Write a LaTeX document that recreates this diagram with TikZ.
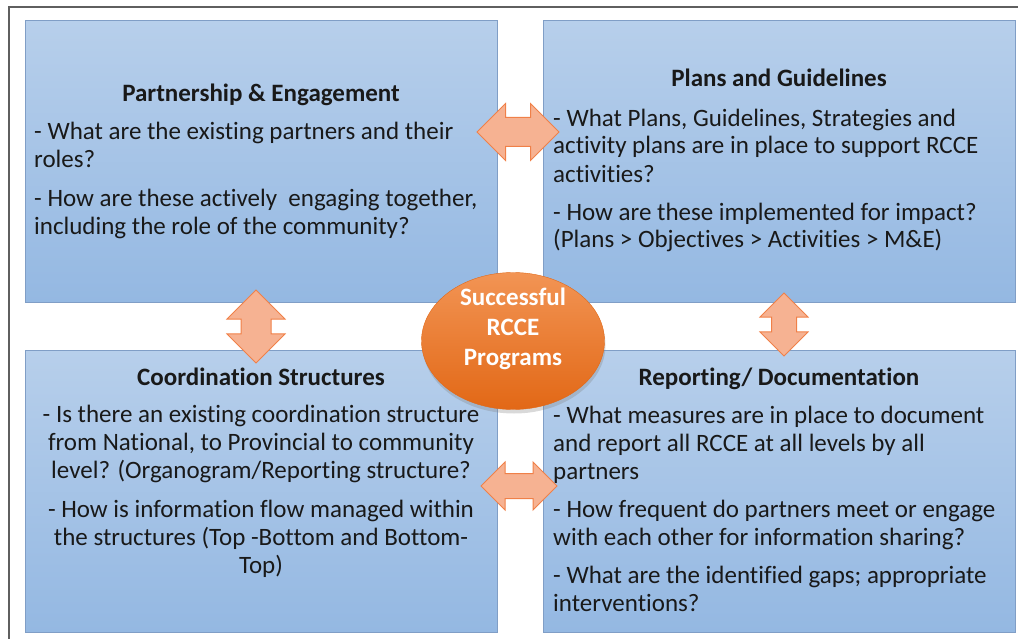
\documentclass[tikz,border=0pt]{standalone}
\usepackage{fontspec}
\setmainfont{Carlito}[Ligatures=CommonOff]
\usetikzlibrary{shapes,arrows,positioning,shadows,calc}

\definecolor{panelTop}{RGB}{183,207,235}
\definecolor{panelBot}{RGB}{148,184,226}
\definecolor{panelLine}{RGB}{128,158,198}
\definecolor{hubTop}{RGB}{242,148,84}
\definecolor{hubBot}{RGB}{226,104,22}
\definecolor{linkFill}{RGB}{246,178,146}
\definecolor{linkLine}{RGB}{240,128,72}
\definecolor{frameGray}{RGB}{95,95,95}

\begin{document}
\begin{tikzpicture}[x=1pt,y=-1pt,
  panelstyle/.style={rectangle,draw=panelLine,top color=panelTop,bottom color=panelBot,minimum width=472,minimum height=282,anchor=north west,inner sep=0},
  headstyle/.style={font=\fontsize{25}{28}\selectfont\bfseries,text=black!90,anchor=base,inner sep=0},
  bodystyle/.style={font=\fontsize{25}{28}\selectfont,text=black!90,align=left,anchor=base west,inner sep=0},
  hubstyle/.style={ellipse,draw=hubBot,top color=hubTop,bottom color=hubBot,minimum width=183,minimum height=137,drop shadow={shadow xshift=1pt,shadow yshift=-4pt,opacity=0.3}},
  linkstyle/.style={double arrow,draw=linkLine,fill=linkFill,line width=1pt,double arrow tip angle=90}]
\useasboundingbox (0,0) rectangle (1018,639);
\draw[frameGray,line width=1.8] (9,660) -- (9,7) -- (1040,7);

% the four panels
\node[panelstyle] (pe) at (25,20) {};
\node[panelstyle] (pg) at (543,20) {};
\node[panelstyle] (cs) at (25,350) {};
\node[panelstyle] (rd) at (543,350) {};

% body anchors sit on the last baseline
\node[headstyle] (peHead) at (261,102) {Partnership \& Engagement};
\node[bodystyle] (peBody) at (34,235) {- What are the existing partners and their\\roles?\\[11pt]- How are these actively~ engaging together,\\including the role of the community?};

\node[headstyle] (pgHead) at (779,87) {Plans and Guidelines};
\node[bodystyle] (pgBody) at (553,248) {- What Plans, Guidelines, Strategies and\\activity plans are in place to support RCCE\\activities?\\[10pt]- How are these implemented for impact?\\(Plans > Objectives > Activities > M\&E)};

\node[headstyle] (csHead) at (261,385) {Coordination Structures};
\node[bodystyle,align=center,anchor=base] (csBody) at (261,573) {- Is there an existing coordination structure\\from National, to Provincial to community\\level? (Organogram/Reporting structure?\\[11pt]- How is information flow managed within\\the structures (Top -Bottom and Bottom-\\Top)};

\node[headstyle] (rdHead) at (779,385) {Reporting/ Documentation};
\node[bodystyle] (rdBody) at (553,611) {- What measures are in place to document\\and report all RCCE at all levels by all\\partners\\[10pt]- How frequent do partners meet or engage\\with each other for information sharing?\\[10pt]- What are the identified gaps; appropriate\\interventions?};

% links between panels
\node[linkstyle,inner sep=14,minimum height=82,double arrow head extend=14] (peLink) at (518,132) {};
\node[linkstyle,inner sep=12,minimum height=76,double arrow head extend=11.5] (rdLink) at (519,486) {};
\node[linkstyle,rotate=90,inner sep=14.5,minimum height=73,double arrow head extend=14] (csLink) at (256,326.5) {};
\node[linkstyle,rotate=90,inner sep=12,minimum height=63,double arrow head extend=11.5] (pgLink) at (784,324.5) {};

% centre
\node[hubstyle] (hub) at (513,341) {};
\node[font=\fontsize{25}{30}\selectfont\bfseries,text=white,align=center] (hubText) at ($(hub.center)+(0,-12)$) {Successful\\RCCE\\Programs};
\end{tikzpicture}
\end{document}
